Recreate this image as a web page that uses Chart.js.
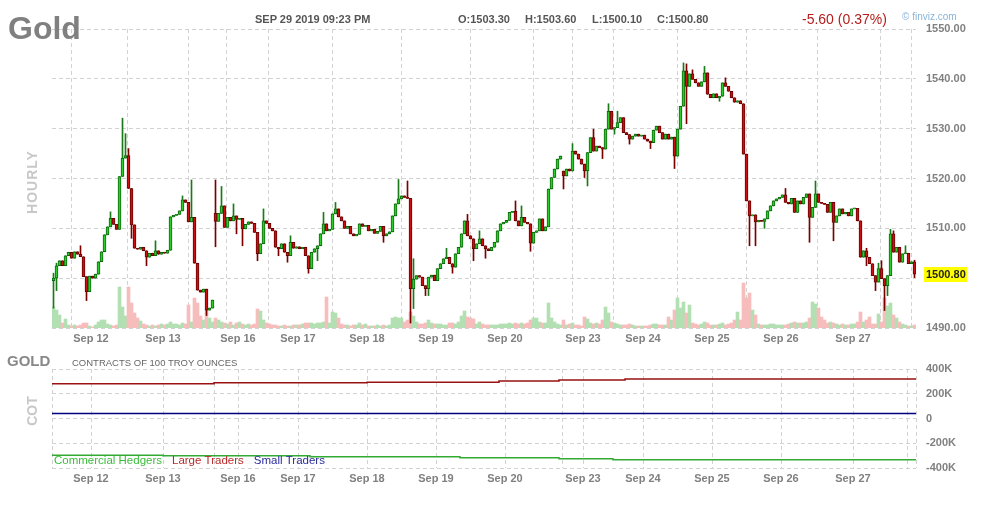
<!DOCTYPE html>
<html>
<head>
<meta charset="utf-8">
<script src="https://cdn.jsdelivr.net/npm/chart.js@4.4.1/dist/chart.umd.min.js"></script>
<style>
  body { margin: 0; background: #fff; width: 984px; height: 507px; overflow: hidden; position: relative;
         font-family: "Liberation Sans", Arial, sans-serif; }
  canvas { position: absolute; left: 0; }
  .t { position: absolute; white-space: nowrap; line-height: 1; z-index: 2; }
  .v { position: absolute; z-index: 2; text-align: center; transform: rotate(-90deg); font-weight: bold; color: #c8c8c8; }
</style>
</head>
<body>
<div class="t" style="left:8px;top:12px;font-size:32px;font-weight:bold;color:#808080">Gold</div>
<div class="t" style="left:255px;top:14px;font-size:11px;font-weight:bold;color:#555">SEP 29 2019 09:23 PM</div>
<div class="t" style="left:458px;top:14px;font-size:11px;font-weight:bold;color:#555">O:1503.30</div>
<div class="t" style="left:525px;top:14px;font-size:11px;font-weight:bold;color:#555">H:1503.60</div>
<div class="t" style="left:592px;top:14px;font-size:11px;font-weight:bold;color:#555">L:1500.10</div>
<div class="t" style="left:657px;top:14px;font-size:11px;font-weight:bold;color:#555">C:1500.80</div>
<div class="t" style="left:802px;top:12px;font-size:14px;color:#b51c1c">-5.60 (0.37%)</div>
<div class="t" style="left:902px;top:12px;font-size:10px;color:#8ab4d8">© finviz.com</div>
<div class="v" style="left:0px;top:174px;width:64px;height:16px;line-height:16px;font-size:14px;letter-spacing:1px">HOURLY</div>
<div class="t" style="left:7px;top:353px;font-size:15px;font-weight:bold;color:#888">GOLD</div>
<div class="t" style="left:72px;top:358px;font-size:9.5px;color:#666">CONTRACTS OF 100 TROY OUNCES</div>
<div class="v" style="left:12px;top:403px;width:40px;height:16px;line-height:16px;font-size:14px">COT</div>

<canvas id="price" width="984" height="352" style="top:0"></canvas>
<canvas id="cot" width="984" height="155" style="top:352px"></canvas>

<script>
// hourly closes, one array per trading session
const sep11Close = [1500.0, 1502.5, 1503.5, 1502.5, 1504.5, 1505.2, 1504.0, 1505.3, 1504.8, 1504.3, 1500.3, 1497.3, 1500.4];
const sep12Close = [1500.0, 1500.8, 1503.3, 1505.3, 1508.7, 1510.3, 1512.0, 1510.8, 1509.8, 1520.4, 1524.1, 1524.6,
                    1518.0, 1510.7, 1506.0, 1505.8, 1506.2, 1505.5, 1504.2, 1505.0, 1504.5, 1505.5, 1504.8, 1505.2];
const sep13Close = [1505.0, 1505.6, 1512.3, 1512.6, 1512.8, 1513.5, 1515.7, 1515.2, 1511.3, 1512.2, 1503.0, 1497.6,
                    1497.2, 1497.8, 1493.6, 1494.0, 1495.6];
const sep16Close = [1511.4, 1513.0, 1514.5, 1510.2, 1512.2, 1511.5, 1512.5, 1511.8, 1512.0, 1509.9, 1510.8, 1511.3,
                    1511.0, 1509.2, 1504.9, 1506.9, 1511.5, 1511.0, 1510.0, 1509.5, 1506.2, 1505.9, 1506.9, 1505.2,
                    1504.5, 1507.2, 1506.0, 1506.3];
const sep17Close = [1505.9, 1506.2, 1504.5, 1501.9, 1505.2, 1505.9, 1506.5, 1508.9, 1510.9, 1509.5, 1509.8, 1512.9,
                    1513.9, 1512.3, 1511.5, 1510.0, 1510.4, 1508.9, 1508.5, 1508.8, 1510.9, 1510.4, 1510.6];
const sep18Close = [1509.5, 1509.8, 1509.0, 1509.4, 1510.4, 1508.5, 1508.9, 1509.3, 1512.5, 1514.9, 1515.9, 1516.5,
                    1516.2, 1516.0, 1497.9, 1499.8, 1500.5, 1500.2, 1498.5, 1497.9, 1500.2, 1500.6, 1499.5];
const sep19Close = [1501.9, 1502.9, 1503.9, 1504.2, 1502.9, 1502.2, 1504.9, 1506.2, 1508.9, 1511.5, 1508.5, 1507.9,
                    1505.9, 1506.9, 1507.9, 1506.5, 1505.9, 1505.5, 1506.2, 1507.2, 1509.5, 1510.9, 1511.2];
const sep20Close = [1511.6, 1513.2, 1513.4, 1511.5, 1510.5, 1512.2, 1511.2, 1510.9, 1507.0, 1509.2, 1509.5, 1511.9,
                    1509.5, 1510.3, 1517.9, 1520.2, 1521.9, 1523.9, 1524.5];
const sep22Close = [1520.5, 1521.9, 1521.5, 1525.5, 1524.9, 1523.9, 1522.9];
const sep23Close = [1521.5, 1525.2, 1528.2, 1525.5, 1526.5, 1526.2, 1525.9, 1529.9, 1533.5, 1529.9, 1530.2, 1531.2,
                    1532.2, 1529.2, 1528.8, 1527.9, 1528.5, 1528.9, 1528.5, 1528.7];
const sep24Close = [1527.9, 1527.5, 1527.2, 1529.7, 1530.5, 1529.2, 1527.9, 1528.9, 1527.9, 1528.3, 1524.5, 1529.9,
                    1534.5, 1541.6, 1538.5, 1541.0, 1539.9, 1539.2, 1538.5, 1539.4, 1541.2, 1536.9, 1536.2];
const sep25Close = [1537.0, 1536.2, 1536.5, 1539.2, 1538.5, 1537.5, 1536.2, 1535.3, 1535.6, 1535.0, 1524.9, 1515.5,
                    1512.5, 1512.7, 1511.3, 1511.6, 1511.4, 1511.9, 1513.5, 1514.5, 1515.5, 1515.9, 1516.2];
const sep26Close = [1516.7, 1515.2, 1514.9, 1516.0, 1513.2, 1515.5, 1514.9, 1516.2, 1516.9, 1512.2, 1514.2, 1516.9,
                    1515.2, 1515.0, 1514.8, 1513.2, 1515.2, 1511.2, 1512.5, 1513.9, 1512.9, 1513.2, 1512.5, 1513.9];
const sep27Close = [1514.0, 1511.5, 1504.2, 1505.5, 1504.2, 1502.9, 1500.5, 1499.2, 1501.9, 1499.9, 1498.5, 1500.5,
                    1508.9, 1505.2, 1506.2, 1503.2, 1504.9, 1505.1];
const sep29Close = [1502.9, 1503.3, 1500.8];

// opens where a session starts with a gap (otherwise a bar opens at the previous close)
const sessionOpens = {0: 1499.5, 54: 1513.0, 170: 1521.5, 285: 1505.0};

// wick ends that stick out past the body, by bar number
const wickHigh = {0: 1501, 1: 1503, 9: 1506.5, 19: 1513.3, 23: 1532.1, 24: 1529, 25: 1526, 34: 1507.5, 43: 1516.5,
  46: 1519.7, 54: 1519.7, 56: 1518.4, 60: 1514.9, 70: 1513.9, 79: 1508.5, 90: 1513.2, 94: 1515.2, 115: 1519.8,
  118: 1519.5, 120: 1503.9, 131: 1506, 138: 1512.8, 142: 1509.5, 154: 1515.5, 156: 1514.5, 173: 1527, 180: 1529.9,
  185: 1535, 188: 1533.5, 210: 1543.2, 211: 1543, 213: 1541.8, 217: 1542.5, 224: 1540.2, 244: 1518, 254: 1519.5,
  271: 1506, 275: 1503, 276: 1503.5, 279: 1509.8, 280: 1509.5, 284: 1506.5, 287: 1503.6};
const wickLow = {0: 1494, 1: 1497.5, 11: 1495.5, 26: 1508, 31: 1502.5, 51: 1492.5, 54: 1506.3, 61: 1508.9,
  63: 1506.5, 68: 1503.5, 75: 1504.5, 78: 1503.2, 85: 1501.0, 88: 1503.5, 110: 1507.2, 119: 1491.0, 120: 1493.9,
  124: 1496.5, 125: 1496.5, 133: 1501, 140: 1503.5, 144: 1504, 159: 1505.4, 170: 1517.9, 177: 1520.2, 178: 1518.5,
  183: 1524, 187: 1528.9, 192: 1526.9, 199: 1526, 207: 1522, 211: 1531, 222: 1535.5, 232: 1506.5, 234: 1506.5,
  237: 1510, 252: 1507.2, 260: 1507.5, 271: 1502.5, 274: 1497.5, 277: 1493.5, 278: 1496.5, 287: 1500.1};

// hourly volume (hundreds of contracts)
const sep11Vol = [21, 18, 13, 5, 9, 3, 2, 3, 2, 3, 5, 5, 2];
const sep12Vol = [1, 3, 6, 8, 8, 4, 3, 2, 3, 41, 21, 12, 41, 25, 15, 10, 7, 4, 3, 2, 3, 2, 3, 4];
const sep13Vol = [3, 4, 6, 4, 4, 3, 5, 4, 23, 6, 30, 25, 12, 8, 18, 10, 6];
const sep16Vol = [10, 8, 6, 5, 4, 6, 3, 5, 6, 4, 3, 4, 3, 4, 19, 17, 8, 5, 4, 3, 3, 2, 2, 3, 2, 2, 3, 3];
const sep17Vol = [3, 4, 5, 5, 5, 4, 5, 5, 6, 31, 5, 16, 15, 10, 4, 3, 3, 2, 3, 3, 5, 3, 4];
const sep18Vol = [2, 2, 2, 3, 2, 3, 2, 3, 10, 11, 10, 10, 6, 8, 16, 12, 6, 4, 4, 5, 8, 5, 4];
const sep19Vol = [4, 4, 3, 3, 5, 5, 4, 6, 12, 17, 11, 10, 9, 4, 6, 4, 3, 3, 3, 3, 3, 4, 4];
const sep20Vol = [4, 5, 4, 5, 4, 5, 4, 5, 8, 10, 10, 6, 5, 5, 25, 10, 6, 4, 3];
const sep22Vol = [8, 3, 4, 5, 3, 3, 2];
const sep23Vol = [11, 9, 5, 4, 5, 4, 8, 21, 15, 6, 5, 4, 3, 3, 3, 4, 3, 2, 2, 2];
const sep24Vol = [2, 2, 3, 4, 4, 3, 3, 3, 11, 8, 18, 30, 20, 26, 15, 23, 5, 4, 3, 4, 6, 5, 3];
const sep25Vol = [3, 3, 4, 5, 3, 4, 5, 8, 16, 8, 45, 30, 35, 18, 13, 4, 3, 3, 3, 4, 4, 3, 3];
const sep26Vol = [3, 3, 4, 5, 6, 5, 5, 5, 6, 10, 26, 24, 20, 11, 8, 5, 6, 5, 4, 3, 4, 3, 3, 4];
const sep27Vol = [4, 6, 16, 6, 8, 11, 4, 4, 14, 6, 30, 22, 25, 13, 10, 6, 4, 3];
const sep29Vol = [2, 2, 3];

// day gridlines (bar number) and their labels
const dayTickIdx = [0, 13, 37, 54, 62, 82, 105, 128, 151, 170, 177, 197, 220, 243, 267, 285, 288];
const dayTickLabels = ['', 'Sep 12', 'Sep 13', '', 'Sep 16', 'Sep 17', 'Sep 18', 'Sep 19', 'Sep 20', '',
                       'Sep 23', 'Sep 24', 'Sep 25', 'Sep 26', 'Sep 27', '', ''];

// COT positions (thousands of contracts), held from each break to the next
const cotBreaks = [0, 37, 54, 86, 105, 136, 149, 169, 187, 191, 288];
const commercialHedgers = [-296, -300, -300, -310, -310, -318, -318, -326, -334, -334, -334];
const largeTraders = [280, 280, 288, 288, 292, 292, 304, 312, 312, 320, 320];
const smallTraders = [40, 40, 40, 40, 40, 40, 40, 40, 40, 40, 40];

const closes = [].concat(sep11Close, sep12Close, sep13Close, sep16Close, sep17Close, sep18Close, sep19Close,
  sep20Close, sep22Close, sep23Close, sep24Close, sep25Close, sep26Close, sep27Close, sep29Close);
const volume = [].concat(sep11Vol, sep12Vol, sep13Vol, sep16Vol, sep17Vol, sep18Vol, sep19Vol,
  sep20Vol, sep22Vol, sep23Vol, sep24Vol, sep25Vol, sep26Vol, sep27Vol, sep29Vol);
const nBars = closes.length;

const opens = closes.map((c, i) => (i in sessionOpens) ? sessionOpens[i] : closes[i - 1]);
const highs = closes.map((c, i) => Math.max(opens[i], c, (i in wickHigh) ? wickHigh[i] : -Infinity));
const lows = closes.map((c, i) => Math.min(opens[i], c, (i in wickLow) ? wickLow[i] : Infinity));
const up = closes.map((c, i) => c >= opens[i]);
const lastClose = closes[nBars - 1];

Chart.defaults.font.family = "'Liberation Sans', Arial, sans-serif";

const GRID = '#d2d2d2';
const DASH = [4, 3];

function dayAxis(height) {
  return {
    type: 'linear', min: 0, max: nBars, offset: false,
    afterBuildTicks: s => { s.ticks = dayTickIdx.map(v => ({value: v})); },
    afterFit: s => { s.height = height; },
    ticks: {
      autoSkip: false, maxRotation: 0, padding: 4, color: '#808080',
      font: {size: 11, weight: 'bold'},
      callback: (v, i) => dayTickLabels[i]
    },
    grid: {color: GRID, lineWidth: 1, drawTicks: false, borderDash: DASH},
    border: {display: false, dash: DASH}
  };
}

const lastPriceTag = {
  id: 'lastPriceTag',
  afterDraw(chart) {
    const {ctx, chartArea} = chart;
    const y = chart.scales.y.getPixelForValue(lastClose);
    ctx.save();
    ctx.fillStyle = '#ffff00';
    ctx.fillRect(chartArea.right + 8, Math.round(y) - 7, 43, 15);
    ctx.fillStyle = '#222';
    ctx.font = "bold 11px 'Liberation Sans', Arial";
    ctx.textBaseline = 'middle';
    ctx.fillText(lastClose.toFixed(2), chartArea.right + 10, Math.round(y) + 1);
    ctx.restore();
  }
};

const priceChart = new Chart(document.getElementById('price'), {
  type: 'bar',
  data: {
    datasets: [
      {
        label: 'Volume', yAxisID: 'yVol', order: 3, grouped: false, barThickness: 3,
        data: volume.map((v, i) => ({x: i + 0.5, y: v})),
        backgroundColor: up.map(u => u ? '#b2e0b2' : '#f7bcbc')
      },
      {
        label: 'Wick', yAxisID: 'y', order: 2, grouped: false, barThickness: 1,
        data: closes.map((c, i) => ({x: i + 0.5, y: [lows[i], highs[i]]})),
        backgroundColor: up.map(u => u ? '#1a7a1a' : '#7a0000')
      },
      {
        label: 'Body', yAxisID: 'y', order: 1, grouped: false, barThickness: 3,
        borderWidth: 1, borderSkipped: false, minBarLength: 1,
        data: closes.map((c, i) => ({x: i + 0.5, y: [opens[i], c]})),
        backgroundColor: up.map(u => u ? '#2ccc2c' : '#cc1010'),
        borderColor: up.map(u => u ? '#0b6a0b' : '#6a0000')
      }
    ]
  },
  options: {
    responsive: false, animation: false, events: [], devicePixelRatio: 1,
    layout: {padding: {left: 52, top: 29, right: 0, bottom: 0}},
    plugins: {legend: {display: false}, tooltip: {enabled: false}},
    scales: {
      x: dayAxis(24),
      y: {
        position: 'right', min: 1490, max: 1550,
        afterFit: s => { s.width = 68; },
        ticks: {stepSize: 10, padding: 10, color: '#808080', font: {size: 11, weight: 'bold'},
                callback: v => v.toFixed(2)},
        grid: {color: GRID, lineWidth: 1, drawTicks: false, borderDash: DASH},
        border: {display: false, dash: DASH}
      },
      yVol: {display: false, min: 0, max: 299}
    }
  },
  plugins: [lastPriceTag]
});

const cotLegend = {
  id: 'cotLegend',
  afterDatasetsDraw(chart) {
    const {ctx, chartArea} = chart;
    ctx.save();
    ctx.font = "11.5px 'Liberation Sans', Arial";
    ctx.textBaseline = 'middle';
    let x = chartArea.left + 2;
    chart.data.datasets.forEach(ds => {
      ctx.fillStyle = ds.textColor;
      ctx.fillText(ds.label, x, chartArea.bottom - 7);
      x += ctx.measureText(ds.label).width + 10;
    });
    ctx.restore();
  }
};

const steps = vals => cotBreaks.map((b, i) => ({x: b, y: vals[i]}));

const cotChart = new Chart(document.getElementById('cot'), {
  type: 'line',
  data: {
    datasets: [
      {label: 'Commercial Hedgers', data: steps(commercialHedgers), borderColor: '#33aa33', textColor: '#3cbc3c'},
      {label: 'Large Traders', data: steps(largeTraders), borderColor: '#991111', textColor: '#b82a2a'},
      {label: 'Small Traders', data: steps(smallTraders), borderColor: '#00007f', textColor: '#2b2b9b'}
    ].map(ds => Object.assign(ds, {stepped: true, pointRadius: 0, borderWidth: 1.5, fill: false}))
  },
  options: {
    responsive: false, animation: false, events: [], devicePixelRatio: 1,
    layout: {padding: {left: 52, top: 17, right: 0, bottom: 0}},
    plugins: {legend: {display: false}, tooltip: {enabled: false}},
    scales: {
      x: dayAxis(39),
      y: {
        position: 'right', min: -400, max: 400,
        afterFit: s => { s.width = 68; },
        ticks: {stepSize: 200, padding: 10, color: '#808080', font: {size: 11, weight: 'bold'},
                callback: v => v === 0 ? '0' : v + 'K'},
        grid: {color: GRID, lineWidth: 1, drawTicks: false, borderDash: DASH},
        border: {display: false, dash: DASH}
      }
    }
  },
  plugins: [cotLegend]
});
</script>
</body>
</html>
